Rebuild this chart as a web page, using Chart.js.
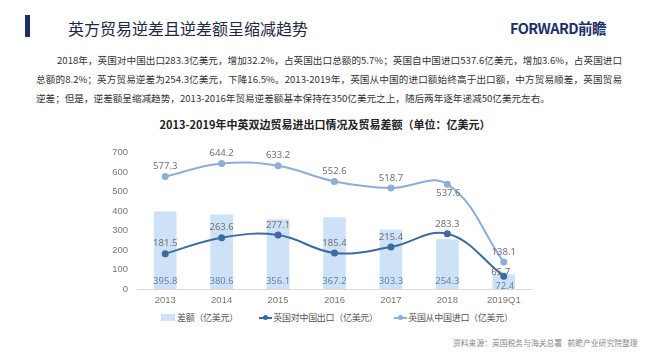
<!DOCTYPE html>
<html>
<head>
<meta charset="utf-8">
<script src="https://cdn.jsdelivr.net/npm/chart.js@4"></script>
<style>
  body { margin: 0; width: 650px; height: 358px; background: #fff; position: relative; overflow: hidden;
         font-family: "Noto Sans CJK SC", "Noto Sans", sans-serif; }
  .bar { position: absolute; left: 25px; top: 15px; width: 5px; height: 22px; background: #1d2f6a; }
  .head { position: absolute; left: 68px; top: 17px; font-size: 16px; line-height: 22px; color: #1e2742; white-space: nowrap; }
  .logo { position: absolute; left: 510px; top: 18px; font-size: 14.5px; line-height: 20px; font-weight: bold; color: #1d2f6a; letter-spacing: -0.6px; }
  .pl { position: absolute; font-size: 9.6px; line-height: 14px; color: #333; white-space: nowrap; text-align: justify; text-align-last: justify; }
  .ctitle { position: absolute; left: 0; width: 650px; top: 117px; text-align: center; font-size: 11px; line-height: 14px; font-weight: bold; color: #222; }
  #wrap { position: absolute; left: 90px; top: 138px; width: 460px; height: 171px; }
  .legend { position: absolute; top: 311px; left: 161px; font-size: 9px; line-height: 12px; letter-spacing: -0.3px; color: #555; white-space: nowrap; }
  .legend span { display: inline-block; vertical-align: middle; }
  .sw { width: 14px; height: 7px; background: #cde2f7; margin-right: 2px; }
  .ln { position: relative; width: 13px; height: 2px; margin-right: 1px; }
  .ln i { position: absolute; left: 4px; top: -2px; width: 5px; height: 5px; border-radius: 50%; background: inherit; }
  .src { position: absolute; left: 453px; top: 337px; font-size: 7.8px; color: #888; white-space: nowrap; }
</style>
</head>
<body>
<div class="bar"></div>
<div class="head">英方贸易逆差且逆差额呈缩减趋势</div>
<div class="logo">FORWARD前瞻</div>
<div class="pl" style="left:57px; top:53px; width:565px;">2018年，英国对中国出口283.3亿美元，增加32.2%，占英国出口总额的5.7%；英国自中国进口537.6亿美元，增加3.6%，占英国进口</div>
<div class="pl" style="left:36px; top:72px; width:586px;">总额的8.2%；英方贸易逆差为254.3亿美元，下降16.5%。2013-2019年，英国从中国的进口额始终高于出口额，中方贸易顺差，英国贸易</div>
<div class="pl" style="left:36px; top:91px; text-align-last: left;">逆差；但是，逆差额呈缩减趋势，2013-2016年贸易逆差额基本保持在350亿美元之上，随后两年逐年递减50亿美元左右。</div>
<div class="ctitle">2013-2019年中英双边贸易进出口情况及贸易差额（单位：亿美元）</div>
<div id="wrap"><canvas id="c"></canvas></div>
<div class="legend">
  <span class="sw"></span><span>差额（亿美元）</span>
  <span style="width:18px"></span>
  <span class="ln" style="background:#3d6aa3"><i></i></span><span>英国对中国出口（亿美元）</span>
  <span style="width:13px"></span>
  <span class="ln" style="background:#8eaed6"><i></i></span><span>英国从中国进口（亿美元）</span>
</div>
<div class="src">资料来源：英国税务与海关总署&nbsp;&nbsp;&nbsp;前瞻产业研究院整理</div>

<script>
const years = ['2013', '2014', '2015', '2016', '2017', '2018', '2019Q1'];
const deficit = [395.8, 380.6, 356.1, 367.2, 303.3, 254.3, 72.4];
const exportsToChina = [181.5, 263.6, 277.1, 185.4, 215.4, 283.3, 65.7];
const importsFromChina = [577.3, 644.2, 633.2, 552.6, 518.7, 537.6, 138.1];
const yTicks = [0, 100, 200, 300, 400, 500, 600, 700];

// value labels, placed from the library's element positions
const valueLabels = {
    id: 'valueLabels',
    afterDatasetsDraw(chart) {
        const ctx = chart.ctx;
        const yZero = chart.scales.y.getPixelForValue(0);
        ctx.save();
        ctx.font = '9.5px "Noto Sans", sans-serif';
        ctx.textAlign = 'center';
        ctx.textBaseline = 'middle';
        chart.data.datasets.forEach(function (ds, i) {
            const meta = chart.getDatasetMeta(i);
            meta.data.forEach(function (el, j) {
                const v = ds.data[j].toFixed(1);
                ctx.fillStyle = '#707070';
                if (ds.type === 'bar') {
                    ctx.fillStyle = '#6283ab';
                    if (j === 6) ctx.fillText(v, el.x + 1, yZero - 3);
                    else ctx.fillText(v, el.x, yZero - 8);
                } else if (i === 2 && j === 5) {
                    ctx.fillText(v, el.x + 1, el.y + 9);
                } else if (i === 1 && j === 6) {
                    ctx.fillText(v, el.x - 3, el.y - 4);
                } else {
                    ctx.fillText(v, el.x, el.y - 10);
                }
            });
        });
        ctx.restore();
    },
};

new Chart(document.getElementById('c'), {
    data: {
        labels: years,
        datasets: [
            {
                type: 'bar',
                label: '差额（亿美元）',
                data: deficit,
                backgroundColor: '#cde2f7',
                barThickness: 22,
                order: 3,
            },
            {
                type: 'line',
                label: '英国对中国出口（亿美元）',
                data: exportsToChina,
                borderColor: '#3d6aa3',
                backgroundColor: '#3d6aa3',
                borderWidth: 2,
                pointRadius: 2.5,
                tension: 0.4,
                order: 1,
            },
            {
                type: 'line',
                label: '英国从中国进口（亿美元）',
                data: importsFromChina,
                borderColor: '#8eaed6',
                backgroundColor: '#8eaed6',
                borderWidth: 2,
                pointRadius: 2.5,
                tension: 0.4,
                order: 2,
            },
        ],
    },
    options: {
        responsive: true,
        maintainAspectRatio: false,
        animation: false,
        layout: { padding: { top: 9, right: 18, bottom: 0, left: 0 } },
        plugins: {
            legend: { display: false },
            tooltip: { enabled: false },
        },
        scales: {
            x: {
                grid: { display: false, drawTicks: false },
                border: { color: '#d9d9d9' },
                ticks: { color: '#777', font: { size: 9.5 }, padding: 6 },
                afterFit(axis) { axis.height = 20; },
            },
            y: {
                min: 0,
                max: 700,
                afterBuildTicks(axis) {
                    axis.ticks = yTicks.map(function (v) { return { value: v }; });
                },
                grid: { display: false, drawTicks: false },
                border: { display: false },
                ticks: { color: '#777', font: { size: 9.5 }, padding: 9 },
                afterFit(axis) { axis.width = 47; },
            },
        },
    },
    plugins: [valueLabels],
});
</script>
</body>
</html>
